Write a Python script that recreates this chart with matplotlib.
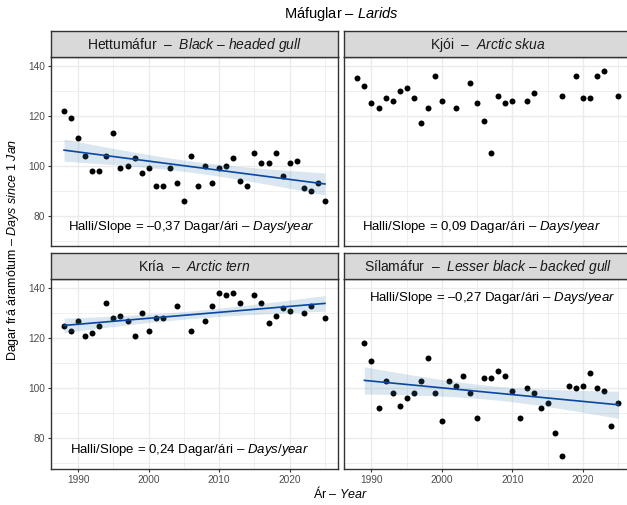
import numpy as np
import matplotlib
matplotlib.use("Agg")
import matplotlib.pyplot as plt

plt.rcParams['font.family'] = ['Liberation Sans', 'DejaVu Sans']
plt.rcParams['mathtext.fontset'] = 'custom'
plt.rcParams['mathtext.rm'] = 'Liberation Sans'
plt.rcParams['mathtext.it'] = 'Liberation Sans:italic'

# gögn - dagar frá áramótum
ar_hettumafur = list(range(1988, 2026))
hettumafur = [122, 119, 111, 104, 98, 98, 104, 113, 99, 100, 103, 97, 99, 92, 92, 99, 93, 86, 104,
              92, 100, 93, 99, 100, 103, 94, 92, 105, 101, 101, 105, 96, 101, 102, 91, 90, 93, 86]

ar_kjoi = [1988, 1989, 1990, 1991, 1992, 1993, 1994, 1995, 1996, 1997, 1998, 1999, 2000, 2002, 2004,
           2005, 2006, 2007, 2008, 2009, 2010, 2012, 2013, 2017, 2019, 2020, 2021, 2022, 2023, 2025]
kjoi = [135, 132, 125, 123, 127, 126, 130, 131, 127, 117, 123, 136, 126, 123, 133,
        125, 118, 105, 128, 125, 126, 126, 129, 128, 136, 127, 127, 136, 138, 128]

ar_kria = [1988, 1989, 1990, 1991, 1992, 1993, 1994, 1995, 1996, 1997, 1998, 1999, 2000, 2001, 2002, 2004,
           2006, 2008, 2009, 2010, 2011, 2012, 2013, 2015, 2016, 2017, 2018, 2019, 2020, 2022, 2023, 2025]
kria = [125, 123, 127, 121, 122, 125, 134, 128, 129, 127, 121, 130, 123, 128, 128, 133,
        123, 127, 133, 138, 137, 138, 134, 137, 134, 126, 129, 132, 131, 130, 133, 128]

ar_silamafur = list(range(1989, 2026))
silamafur = [118, 111, 92, 103, 98, 93, 96, 98, 103, 112, 98, 87, 103, 101, 105, 98, 88, 104, 104,
             107, 105, 99, 88, 100, 98, 92, 94, 82, 73, 101, 100, 101, 106, 100, 99, 85, 94]

heiti = ["Hettumáfur", "Kjói", "Kría", "Sílamáfur"]
latina = [r"Black\ –\ headed\ gull", r"Arctic\ skua", r"Arctic\ tern", r"Lesser\ black\ –\ backed\ gull"]
halli = ["–0,37", "0,09", "0,24", "–0,27"]
syna_linu = [True, False, True, True]
texti_x = [2006, 2005.6, 2005.8, 2007.2]
texti_y = [75.5, 75.5, 75.5, 136]

gogn = [(ar_hettumafur, hettumafur), (ar_kjoi, kjoi), (ar_kria, kria), (ar_silamafur, silamafur)]

W, H = 627, 505
fig = plt.figure(figsize=(W / 100, H / 100), dpi=100)

# stöður panela í pixlum (vinstri, efri, neðri)
vinstri = [51, 344.3]
breidd = 287
raðir = [(31, 57, 246), (252.7, 279.3, 469)]

def smooth(ax, x, y):
    x = np.array(x, float); y = np.array(y, float)
    n = len(x)
    b, a = np.polyfit(x, y, 1)
    xs = np.linspace(x.min(), x.max(), 80)
    res = y - (a + b * x)
    s = np.sqrt((res ** 2).sum() / (n - 2))
    sxx = ((x - x.mean()) ** 2).sum()
    se = s * np.sqrt(1 / n + (xs - x.mean()) ** 2 / sxx)
    fit = a + b * xs
    t = 2.03
    ax.fill_between(xs, fit - t * se, fit + t * se, color='steelblue', alpha=0.2, lw=0, zorder=4)
    ax.plot(xs, fit, color='#0A47A0', lw=1.2, zorder=5)

for i in range(4):
    r, c = divmod(i, 2)
    top_s, top_a, bot_a = raðir[r]
    x0 = vinstri[c]
    ax = fig.add_axes([x0 / W, 1 - bot_a / H, breidd / W, (bot_a - top_a) / H])
    st = fig.add_axes([x0 / W, 1 - top_a / H, breidd / W, (top_a - top_s) / H])

    x, y = gogn[i]
    ax.plot(x, y, 'o', color='black', ms=4.3, mew=0, zorder=3)
    if syna_linu[i]:
        smooth(ax, x, y)

    ax.set_xlim(1986.15, 2026.85)
    ax.set_ylim(67.8, 143.45)
    ax.set_xticks([1990, 2000, 2010, 2020])
    ax.set_xticks([1995, 2005, 2015, 2025], minor=True)
    ax.set_yticks([80, 100, 120, 140])
    ax.set_yticks([70, 90, 110, 130], minor=True)
    ax.grid(which='major', color='#EBEBEB', lw=1.0, zorder=0)
    ax.grid(which='minor', color='#EBEBEB', lw=0.55, zorder=0)
    ax.set_axisbelow(True)
    for sp in ax.spines.values():
        sp.set_color('#333333'); sp.set_linewidth(1.0)
    ax.tick_params(which='minor', length=0)
    ax.tick_params(which='major', length=2.5, width=0.8, color='#333333', labelsize=7.3,
                   labelcolor='#4D4D4D', pad=2)
    if c == 1:
        ax.tick_params(axis='y', which='major', length=0, labelleft=False)
    if r == 0:
        ax.tick_params(axis='x', which='major', length=0, labelbottom=False)

    ax.text(texti_x[i], texti_y[i],
            "Halli/Slope = " + halli[i] + " Dagar/ári – $\\it{Days/year}$",
            ha='center', va='center', fontsize=9.5, color='black', zorder=6)

    st.set_facecolor('#D9D9D9')
    st.set_xticks([]); st.set_yticks([])
    for sp in st.spines.values():
        sp.set_color('#333333'); sp.set_linewidth(1.0)
    st.text(0.5, 0.47, heiti[i] + "  –  $\\it{" + latina[i] + "}$", transform=st.transAxes,
            ha='center', va='center', fontsize=10, color='#1A1A1A')

fig.text(341 / W, 1 - 14 / H, "Máfuglar – $\\it{Larids}$", ha='center', va='center', fontsize=10.5)
fig.text(341 / W, 1 - 493 / H, "Ár – $\\it{Year}$", ha='center', va='center', fontsize=9)
fig.text(13 / W, 1 - 250 / H, "Dagar frá áramótum – $\\it{Days\\ since\\ 1\\ Jan}$",
         ha='center', va='center', rotation=90, fontsize=9)

fig.savefig("out.png", dpi=100)
